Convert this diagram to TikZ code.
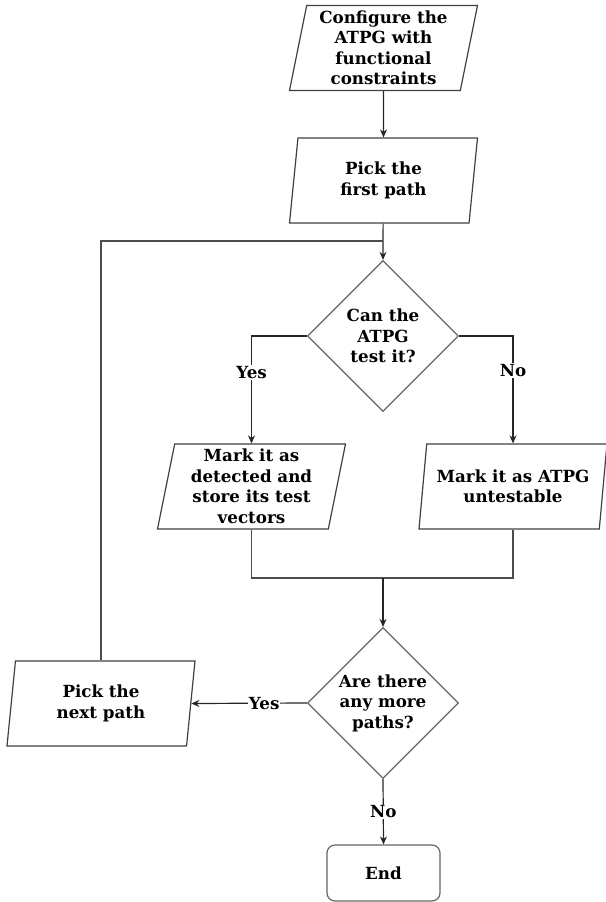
\documentclass[tikz,border=0pt]{standalone}
\usepackage{fontspec}
\setmainfont{DejaVu Serif}
\usetikzlibrary{shapes.geometric,arrows.meta}
\begin{document}
\begin{tikzpicture}[x=1pt,y=-1pt]
		\tikzstyle{txt}=[font=\bfseries\fontsize{16.7}{20.5}\selectfont]
		\tikzstyle{io}=[txt,trapezium,trapezium left angle=77,trapezium right angle=103,trapezium stretches body,draw=black!75,line width=1.2pt,minimum width=188pt,minimum height=85pt,inner sep=0pt,align=center]
		\tikzstyle{decision}=[txt,diamond,draw=black!60,line width=1.2pt,minimum width=151pt,minimum height=151pt,inner sep=0pt,align=center]
		\tikzstyle{term}=[txt,rectangle,rounded corners=8pt,draw=black!60,line width=1.2pt,minimum width=113pt,minimum height=56pt]
		\tikzstyle{lbl}=[txt,fill=white,inner sep=1pt]
		\tikzstyle{flow}=[draw=black!85,line width=1.2pt,-{Stealth[length=8pt,width=7pt]}]
		\tikzstyle{wire}=[draw=black!70,line width=1.2pt]
		\useasboundingbox (0,0) rectangle (605,902);
		\node[io] (s_1) at (383.5,48) {Configure the\\ATPG with\\functional\\constraints};
		\node[io] (s_2) at (383.5,180.5) {Pick the\\first path};
		\node[decision] (q_1) at (383,336) {Can the\\ATPG\\test it?};
		\node[io] (s_3) at (251.5,486.5) {Mark it as\\detected and\\store its test\\vectors};
		\node[io] (s_4) at (513,486.5) {Mark it as ATPG\\untestable};
		\node[decision] (q_2) at (383,703) {Are there\\any more\\paths?};
		\node[io] (s_5) at (101,703.5) {Pick the\\next path};
		\node[term] (e_1) at (383.5,873) {End};
		\coordinate (c_loop) at (383,241);
		\coordinate (c_join) at (383,578);
		\draw[flow] (s_1) -- (s_2);
		\draw[flow] (s_2) -- (c_loop) -- (q_1);
		\draw[wire] (s_5.north) |- (c_loop);
		\draw[flow] (q_1.west) -| node[lbl,pos=0.67] {Yes} (s_3.north);
		\draw[flow] (q_1.east) -| node[lbl,pos=0.66] {No} (s_4.north);
		\draw[wire] (s_3.south) |- (c_join);
		\draw[wire] (s_4.south) |- (c_join);
		\draw[flow] (c_join) -- (q_2.north);
		\draw[flow] (q_2.west) -- node[lbl,pos=0.37] {Yes} (s_5.east);
		\draw[flow] (q_2.south) -- node[lbl] {No} (e_1.north);
	\end{tikzpicture}
\end{document}
